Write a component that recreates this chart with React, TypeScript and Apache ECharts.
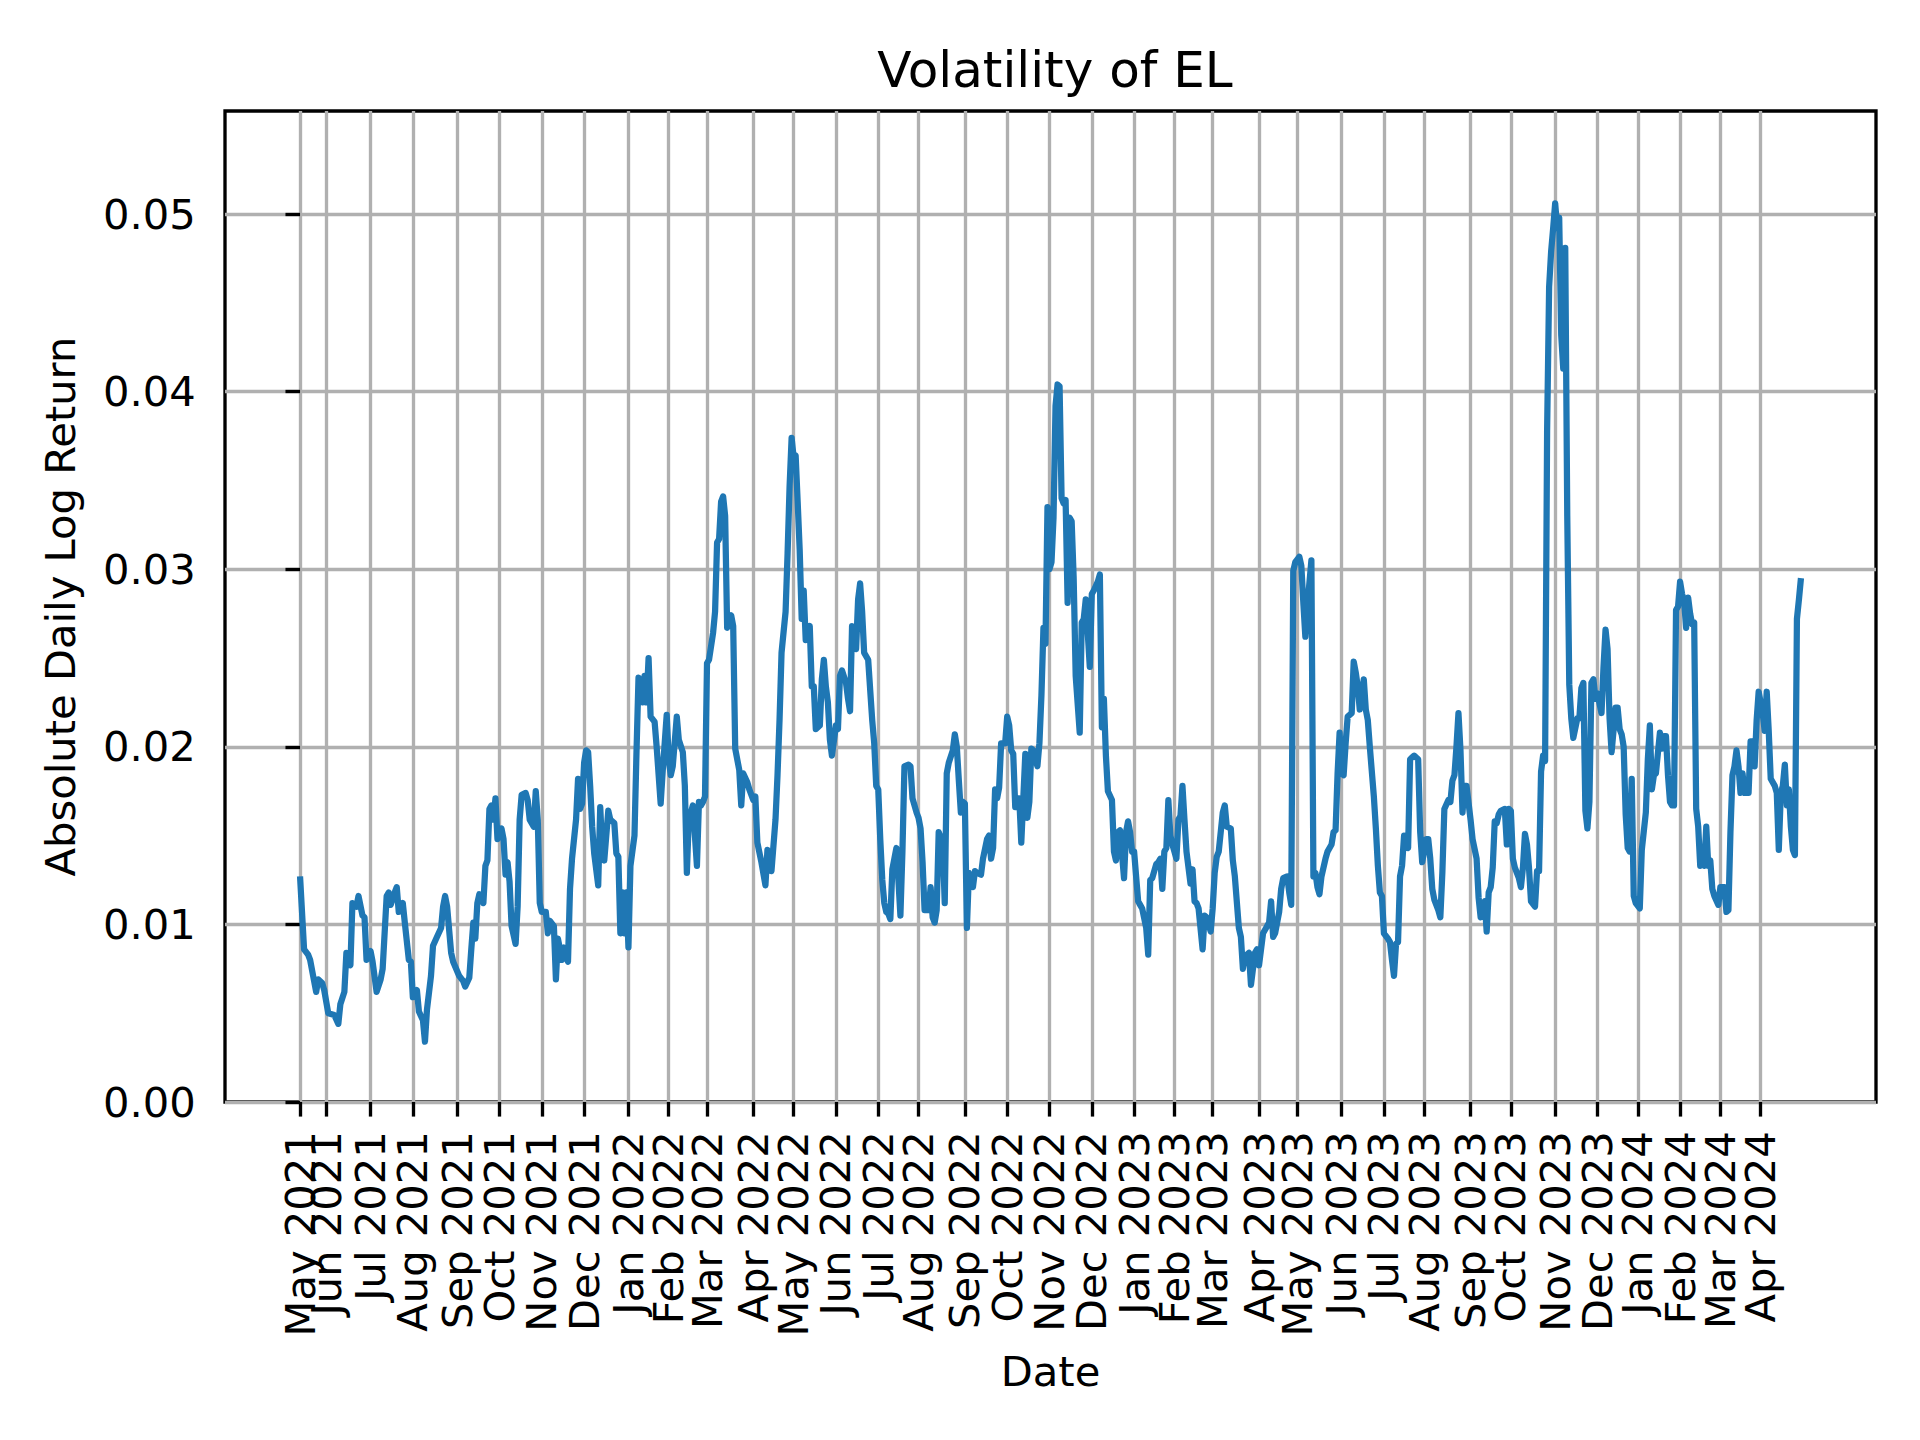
import React, { useEffect, useRef } from "react";
import * as echarts from "echarts";

// Trading-day index (0 = first observation, mid May 2021) of the first trading day of each month
const tickIndex = [0, 13, 35, 56, 78, 99, 120, 141, 163, 183, 202, 225, 245, 266, 287, 307, 330, 351, 372, 393, 414, 434, 453, 476, 495, 517, 538, 558, 581, 601, 623, 644, 664, 685, 705, 725];
const tickLabels = ["May 2021", "Jun 2021", "Jul 2021", "Aug 2021", "Sep 2021", "Oct 2021", "Nov 2021", "Dec 2021", "Jan 2022", "Feb 2022", "Mar 2022", "Apr 2022", "May 2022", "Jun 2022", "Jul 2022", "Aug 2022", "Sep 2022", "Oct 2022", "Nov 2022", "Dec 2022", "Jan 2023", "Feb 2023", "Mar 2023", "Apr 2023", "May 2023", "Jun 2023", "Jul 2023", "Aug 2023", "Sep 2023", "Oct 2023", "Nov 2023", "Dec 2023", "Jan 2024", "Feb 2024", "Mar 2024", "Apr 2024"];
const lastIndex = 745;
const yTicks = [0, 0.01, 0.02, 0.03, 0.04, 0.05];
const yMax = 0.0558;

// [trading-day index, absolute daily log return (rolling)]
const readings: [number, number][] = [
  [0,0.0127],[2,0.0086],[4,0.0083],[5,0.0080],[7,0.0068],[8,0.0062],[9,0.0069],[11,0.0067],[12,0.0063],[14,0.0050],[17,0.0049],[19,0.0044],[20,0.0055],[22,0.0062],[23,0.0084],[25,0.0077],[26,0.0112],[28,0.0110],[29,0.0116],[31,0.0105],[32,0.0104],[33,0.0080],[35,0.0085],[36,0.0079],[38,0.0062],[40,0.0069],[41,0.0075],[43,0.0116],[44,0.0118],[45,0.0111],[47,0.0118],[48,0.0121],[49,0.0107],[51,0.0112],[52,0.0101],[54,0.0080],[55,0.0079],[56,0.0059],[58,0.0063],[59,0.0051],[61,0.0046],[62,0.0034],[63,0.0052],[65,0.0071],[66,0.0088],[68,0.0093],[70,0.0098],[71,0.0110],[72,0.0116],[73,0.0110],[75,0.0084],[76,0.0079],[79,0.0071],[81,0.0068],[82,0.0065],[84,0.0070],[85,0.0086],[86,0.0101],[87,0.0092],[88,0.0112],[89,0.0117],[91,0.0112],[92,0.0133],[93,0.0136],[94,0.0165],[95,0.0167],[96,0.0159],[97,0.0171],[98,0.0148],
  [100,0.0154],[101,0.0148],[102,0.0128],[103,0.0135],[104,0.0124],[105,0.0099],[107,0.0089],[108,0.0110],[109,0.0159],[110,0.0173],[112,0.0174],[113,0.0170],[114,0.0159],[116,0.0155],[117,0.0175],[118,0.0159],[119,0.0112],[120,0.0107],[122,0.0107],[123,0.0095],[124,0.0102],[126,0.0099],[127,0.0069],[128,0.0092],[130,0.0080],[131,0.0087],[133,0.0079],[134,0.0120],[135,0.0137],[137,0.0159],[138,0.0182],[139,0.0165],[140,0.0168],[141,0.0191],[142,0.0198],[143,0.0197],[144,0.0178],[145,0.0155],[146,0.0140],[148,0.0122],[149,0.0166],[150,0.0142],[151,0.0136],[153,0.0164],[154,0.0159],[156,0.0157],[157,0.0140],[158,0.0138],[159,0.0095],[160,0.0118],[161,0.0095],[162,0.0118],[163,0.0087],[164,0.0133],[166,0.0150],[167,0.0197],[168,0.0239],[170,0.0225],[171,0.0240],[172,0.0225],[173,0.0250],[174,0.0217],[176,0.0214],[177,0.0200],[179,0.0168],[180,0.0186],[182,0.0218],[183,0.0193],[184,0.0184],[185,0.0189],[187,0.0217],[188,0.0204],[190,0.0197],[191,0.0178],[192,0.0129],[193,0.0161],[194,0.0163],[195,0.0167],[197,0.0133],[198,0.0169],[199,0.0167],
  [200,0.0169],[201,0.0172],[202,0.0247],[203,0.0249],[205,0.0264],[206,0.0276],[207,0.0315],[208,0.0317],[209,0.0338],[210,0.0341],[211,0.0330],[212,0.0267],[213,0.0272],[214,0.0274],[215,0.0268],[216,0.0199],[218,0.0187],[219,0.0167],[220,0.0185],[222,0.0180],[223,0.0176],[225,0.0170],[226,0.0172],[227,0.0146],[229,0.0135],[231,0.0122],[232,0.0142],[234,0.0130],[236,0.0159],[237,0.0184],[238,0.0215],[239,0.0253],[241,0.0276],[242,0.0309],[243,0.0347],[244,0.0374],[245,0.0363],[246,0.0364],[247,0.0338],[248,0.0311],[249,0.0272],[250,0.0288],[251,0.0260],[253,0.0268],[254,0.0234],[255,0.0234],[256,0.0210],[258,0.0212],[259,0.0238],[260,0.0249],[261,0.0234],[262,0.0225],[263,0.0204],[264,0.0195],[266,0.0212],[267,0.0210],[268,0.0240],[269,0.0243],[271,0.0236],[272,0.0227],[273,0.0220],[274,0.0268],[276,0.0255],[277,0.0283],[278,0.0292],[279,0.0276],[280,0.0253],[282,0.0249],[284,0.0215],[285,0.0202],[286,0.0178],[287,0.0176],[288,0.0148],[289,0.0125],[290,0.0112],[291,0.0107],[292,0.0106],[293,0.0103],[294,0.0131],[296,0.0143],[297,0.0125],[298,0.0105],[299,0.0141],
  [300,0.0189],[302,0.0190],[303,0.0189],[304,0.0171],[306,0.0163],[307,0.0160],[308,0.0154],[309,0.0135],[310,0.0108],[312,0.0108],[313,0.0121],[314,0.0104],[315,0.0101],[316,0.0108],[317,0.0152],[319,0.0146],[320,0.0112],[321,0.0185],[322,0.0191],[324,0.0198],[325,0.0207],[326,0.0200],[327,0.0181],[328,0.0163],[329,0.0169],[330,0.0168],[331,0.0098],[332,0.0129],[334,0.0121],[335,0.0130],[336,0.0129],[338,0.0128],[339,0.0137],[341,0.0148],[342,0.0150],[343,0.0137],[344,0.0143],[345,0.0176],[346,0.0171],[347,0.0177],[348,0.0202],[350,0.0202],[351,0.0217],[352,0.0212],[353,0.0198],[354,0.0196],[355,0.0166],[356,0.0171],[357,0.0171],[358,0.0146],[360,0.0196],[361,0.0160],[362,0.0169],[363,0.0199],[364,0.0198],[366,0.0189],[367,0.0202],[368,0.0229],[369,0.0267],[370,0.0258],[371,0.0335],[372,0.0300],[373,0.0304],[374,0.0329],[375,0.0392],[376,0.0404],[377,0.0403],[378,0.0340],[379,0.0337],[380,0.0339],[381,0.0281],[382,0.0329],[383,0.0327],[384,0.0295],[385,0.0240],[387,0.0208],[388,0.0270],[389,0.0272],[390,0.0283],[392,0.0245],[393,0.0286],[394,0.0288],[396,0.0293],[397,0.0297],[398,0.0211],[399,0.0227],
  [400,0.0195],[401,0.0175],[403,0.0170],[404,0.0141],[405,0.0136],[406,0.0152],[407,0.0153],[409,0.0126],[410,0.0152],[411,0.0158],[412,0.0152],[413,0.0141],[414,0.0141],[416,0.0113],[417,0.0111],[418,0.0109],[420,0.0098],[421,0.0083],[422,0.0125],[423,0.0126],[425,0.0134],[426,0.0135],[427,0.0137],[428,0.0120],[429,0.0141],[430,0.0143],[431,0.0170],[432,0.0150],[433,0.0145],[435,0.0137],[436,0.0159],[437,0.0161],[438,0.0178],[439,0.0159],[440,0.0141],[442,0.0123],[443,0.0131],[444,0.0113],[445,0.0112],[446,0.0109],[448,0.0086],[449,0.0105],[450,0.0104],[452,0.0096],[453,0.0109],[454,0.0129],[455,0.0138],[456,0.0141],[458,0.0163],[459,0.0167],[460,0.0155],[462,0.0154],[463,0.0136],[464,0.0127],[466,0.0098],[467,0.0093],[468,0.0075],[469,0.0082],[471,0.0084],[472,0.0066],[473,0.0075],[474,0.0084],[475,0.0086],[476,0.0077],[478,0.0095],[479,0.0097],[481,0.0101],[482,0.0113],[483,0.0093],[484,0.0095],[486,0.0107],[487,0.0120],[488,0.0126],[490,0.0127],[491,0.0118],[492,0.0111],[493,0.0299],[494,0.0304],[496,0.0307],[497,0.0302],[498,0.0281],[499,0.0262],
  [500,0.0279],[502,0.0305],[503,0.0127],[504,0.0129],[505,0.0121],[506,0.0117],[507,0.0127],[509,0.0137],[510,0.0141],[512,0.0145],[513,0.0152],[514,0.0153],[515,0.0185],[516,0.0208],[517,0.0185],[518,0.0184],[519,0.0202],[520,0.0217],[522,0.0219],[523,0.0248],[524,0.0242],[525,0.0234],[526,0.0221],[528,0.0238],[529,0.0221],[530,0.0215],[531,0.0200],[533,0.0172],[534,0.0154],[535,0.0133],[536,0.0118],[537,0.0116],[538,0.0095],[540,0.0092],[541,0.0090],[542,0.0080],[543,0.0071],[544,0.0089],[545,0.0090],[546,0.0127],[547,0.0133],[548,0.0150],[550,0.0143],[551,0.0193],[552,0.0194],[553,0.0195],[555,0.0193],[556,0.0152],[557,0.0135],[559,0.0148],[560,0.0148],[561,0.0137],[562,0.0120],[563,0.0114],[565,0.0108],[566,0.0104],[567,0.0129],[568,0.0165],[570,0.0170],[571,0.0169],[572,0.0181],[573,0.0184],[574,0.0200],[575,0.0219],[576,0.0198],[577,0.0163],[578,0.0178],[579,0.0178],[581,0.0159],[582,0.0148],[584,0.0137],[585,0.0115],[586,0.0104],[587,0.0111],[588,0.0113],[589,0.0096],[590,0.0118],[591,0.0121],[592,0.0132],[593,0.0158],[594,0.0157],[595,0.0162],[596,0.0164],[598,0.0165],[599,0.0145],
  [600,0.0165],[601,0.0164],[602,0.0137],[603,0.0132],[605,0.0126],[606,0.0121],[607,0.0132],[608,0.0151],[609,0.0145],[610,0.0132],[611,0.0113],[613,0.0110],[614,0.0130],[615,0.0130],[616,0.0186],[617,0.0195],[618,0.0192],[619,0.0378],[620,0.0459],[621,0.0479],[622,0.0492],[623,0.0506],[624,0.0492],[625,0.0498],[626,0.0432],[627,0.0413],[628,0.0481],[629,0.0330],[630,0.0235],[631,0.0216],[632,0.0205],[634,0.0216],[635,0.0216],[636,0.0233],[637,0.0236],[638,0.0164],[639,0.0154],[640,0.0169],[641,0.0236],[642,0.0238],[643,0.0227],[644,0.0230],[646,0.0219],[647,0.0245],[648,0.0266],[649,0.0255],[650,0.0216],[651,0.0197],[653,0.0222],[654,0.0222],[655,0.0210],[656,0.0207],[657,0.0200],[658,0.0162],[659,0.0143],[660,0.0141],[661,0.0182],[662,0.0116],[663,0.0112],[665,0.0109],[666,0.0142],[668,0.0163],[669,0.0193],[670,0.0212],[671,0.0176],[672,0.0184],[673,0.0185],[675,0.0208],[676,0.0199],[677,0.0206],[678,0.0206],[679,0.0184],[680,0.0169],[681,0.0167],[682,0.0167],[683,0.0277],[684,0.0279],[685,0.0293],[686,0.0286],[687,0.0282],[688,0.0267],[689,0.0284],[690,0.0275],[691,0.0269],[692,0.0270],[693,0.0165],[694,0.0155],[695,0.0133],[696,0.0135],[697,0.0133],[698,0.0155],[699,0.0133],
  [700,0.0136],[701,0.0120],[702,0.0116],[704,0.0111],[705,0.0121],[707,0.0121],[708,0.0107],[709,0.0108],[710,0.0152],[711,0.0184],[712,0.0189],[713,0.0198],[714,0.0189],[715,0.0174],[716,0.0185],[717,0.0174],[719,0.0174],[720,0.0203],[721,0.0203],[722,0.0189],[723,0.0215],[724,0.0231],[726,0.0219],[727,0.0209],[728,0.0231],[729,0.0209],[730,0.0182],[732,0.0178],[733,0.0174],[734,0.0142],[735,0.0174],[736,0.0178],[737,0.0190],[738,0.0167],[739,0.0176],[740,0.0155],[741,0.0142],[742,0.0139],[743,0.0272],[744,0.0283],[745,0.0295]
];

const FONT = "DejaVu Sans";
const PT = 300 / 72;

// The labels that sit right next to another one are drawn by a second, identical x axis
// so that ECharts' overlap handling does not drop them.
const crowded = [1, 34];
const mainTicks = tickIndex.filter((_, i) => !crowded.includes(i));
const extraTicks = tickIndex.filter((_, i) => crowded.includes(i));

export default function App() {
  const ref = useRef<HTMLDivElement>(null);
  useEffect(() => {
    document.body.style.margin = "0";
    if (!ref.current) return;
    const chart = echarts.init(ref.current, null, { renderer: "svg" });
    const pad = lastIndex * 0.05;
    const makeX = (ticks: number[], withName: boolean) => ({
      type: "value",
      position: "bottom",
      min: -pad,
      max: lastIndex + pad,
      name: withName ? "Date" : "",
      nameLocation: "middle",
      nameGap: 248,
      nameTextStyle: { fontFamily: FONT, fontSize: 10 * PT, color: "#000" },
      axisLine: { show: false },
      axisTick: {
        show: true,
        customValues: ticks,
        length: 3.5 * PT,
        lineStyle: { color: "#000", width: 0.8 * PT },
      },
      axisLabel: {
        customValues: ticks,
        rotate: 90,
        margin: 7 * PT,
        showMinLabel: true,
        showMaxLabel: true,
        hideOverlap: false,
        fontFamily: FONT,
        fontSize: 10 * PT,
        color: "#000",
        formatter: (v: number) => {
          const i = tickIndex.indexOf(Math.round(v));
          return i >= 0 ? tickLabels[i] : "";
        },
      },
      splitLine: {
        show: true,
        lineStyle: { color: "#b0b0b0", width: 0.8 * PT },
      },
    });
    chart.setOption({
      animation: false,
      backgroundColor: "#ffffff",
      title: {
        text: "Volatility of EL",
        left: 1050,
        textAlign: "center",
        top: 40,
        textStyle: { fontFamily: FONT, fontSize: 12 * PT, fontWeight: "normal", color: "#000" },
      },
      grid: {
        left: 225,
        right: 44,
        top: 111,
        bottom: 338,
        show: true,
        borderColor: "#000",
        borderWidth: 0.8 * PT,
        backgroundColor: "transparent",
      },
      xAxis: [makeX(mainTicks, true), makeX(extraTicks, false)],
      yAxis: {
        type: "value",
        min: 0,
        max: yMax,
        name: "Absolute Daily Log Return",
        nameLocation: "middle",
        nameGap: 144,
        nameRotate: 90,
        nameTextStyle: { fontFamily: FONT, fontSize: 10 * PT, color: "#000" },
        axisLine: { show: false },
        axisTick: {
          show: true,
          customValues: yTicks,
          length: 3.5 * PT,
          lineStyle: { color: "#000", width: 0.8 * PT },
        },
        axisLabel: {
          customValues: yTicks,
          margin: 7 * PT,
          showMinLabel: true,
          fontFamily: FONT,
          fontSize: 10 * PT,
          color: "#000",
          formatter: (v: number) => v.toFixed(2),
        },
        splitLine: {
          show: true,
          lineStyle: { color: "#b0b0b0", width: 0.8 * PT },
        },
      },
      series: [
        {
          type: "line",
          xAxisIndex: 0,
          data: readings,
          showSymbol: false,
          symbol: "none",
          lineStyle: { color: "#1f77b4", width: 1.5 * PT, join: "round", cap: "butt" },
          z: 3,
        },
      ],
    });
    return () => chart.dispose();
  }, []);
  return <div ref={ref} style={{ width: 1920, height: 1440 }} />;
}
